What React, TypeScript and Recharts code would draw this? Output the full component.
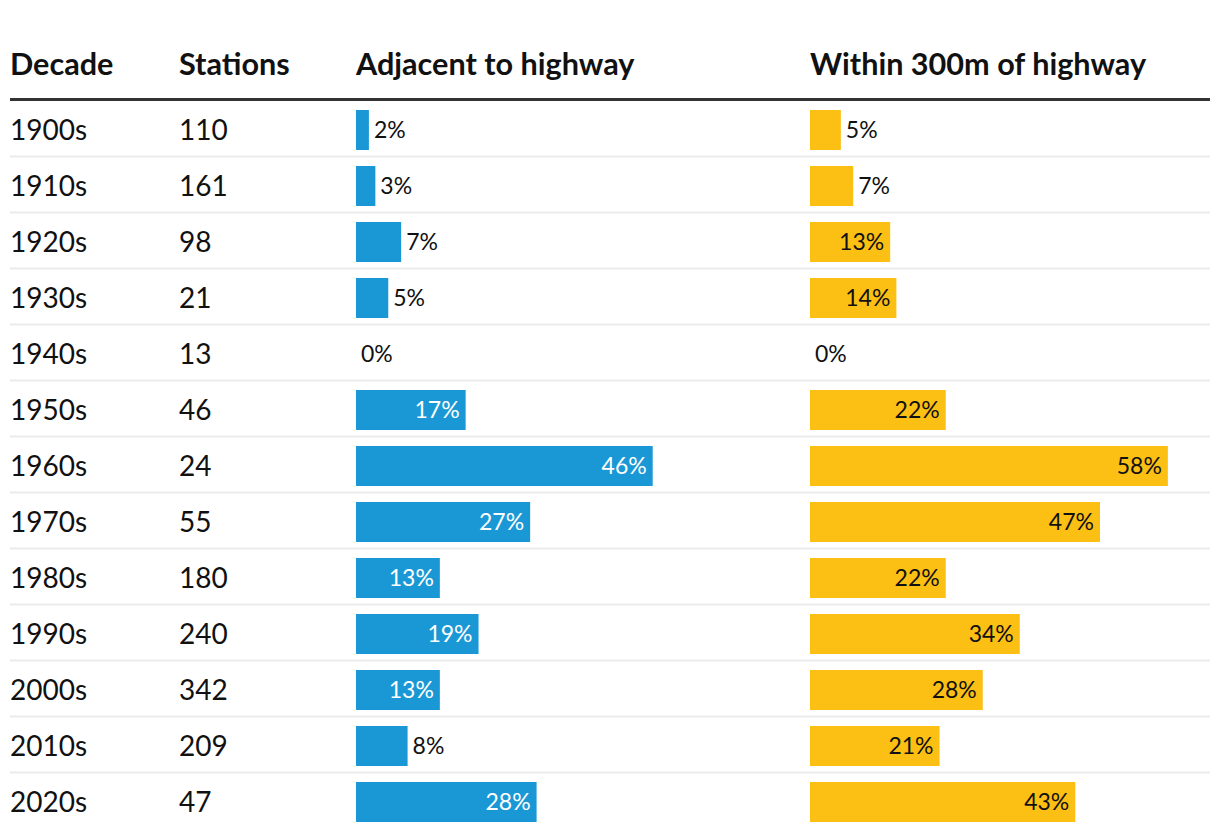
import React from 'react';
import { BarChart, Bar, XAxis, YAxis, LabelList } from 'recharts';

const decades = ['1900s', '1910s', '1920s', '1930s', '1940s', '1950s', '1960s', '1970s', '1980s', '1990s', '2000s', '2010s', '2020s'];
const stations = [110, 161, 98, 21, 13, 46, 24, 55, 180, 240, 342, 209, 47];
const adjacent = [2, 3, 7, 5, 0, 17, 46, 27, 13, 19, 13, 8, 28];
const within = [5, 7, 13, 14, 0, 22, 58, 47, 22, 34, 28, 21, 43];
const headers = ['Decade', 'Stations', 'Adjacent to highway', 'Within 300m of highway'];

const data = decades.map((d, i) => ({
    decade: d,
    stations: stations[i],
    adjacent: adjacent[i],
    within: within[i]
}));

const COLORS = {
    blue: '#1a98d5',
    yellow: '#fcbf14',
    text: '#111111',
    rule: '#333333',
    sep: '#ebebeb'
};

const FONT = 'Lato, "Noto Sans", sans-serif';
const W = 1220;
const H = 838;

// column x positions
const COL_X = [10, 179, 356, 810];

const RowTick = (props: any) => {
    const { y, payload, index } = props;
    const row = data.find((r) => r.decade === payload.value);
    const last = row ? row.decade === decades[decades.length - 1] : index === data.length - 1;
    return (
        <g>
            <text x={COL_X[0]} y={y} dy="0.36em" fontSize={28} fill={COLORS.text} fontFamily={FONT}>{payload.value}</text>
            <text x={COL_X[1]} y={y} dy="0.36em" fontSize={28} fill={COLORS.text} fontFamily={FONT}>{row ? row.stations : ''}</text>
            {!last && <line x1={10} x2={1210} y1={y + 26.5} y2={y + 26.5} stroke={COLORS.sep} strokeWidth={2} />}
        </g>
    );
};

const makeLabel = (insideFill: string) => (props: any) => {
    const x = Number(props.x);
    const y = Number(props.y);
    const width = Number(props.width) || 0;
    const height = Number(props.height) || 0;
    const value = Number(props.value);
    const inside = value >= 10;
    // zero-value bars get a hairline min size so the label still renders
    const w = value === 0 ? 0 : width;
    return (
        <text
            x={inside ? x + w - 6 : x + w + 5}
            y={y + height / 2}
            dy="0.36em"
            textAnchor={inside ? 'end' : 'start'}
            fill={inside ? insideFill : COLORS.text}
            fontSize={23}
            fontFamily={FONT}
        >
            {`${value}%`}
        </text>
    );
};

export default function App() {
    return (
        <div style={{ position: 'absolute', left: 0, top: 0, width: W, height: H, background: '#fff', fontFamily: FONT }}>
            <svg width={W} height={110} style={{ position: 'absolute', left: 0, top: 0 }}>
                {headers.map((h, i) => (
                    <text key={h} x={COL_X[i]} y={75} fontSize={30.6} fontWeight="bold" fill={COLORS.text} fontFamily={FONT}>{h}</text>
                ))}
                <line x1={10} x2={1210} y1={99.5} y2={99.5} stroke={COLORS.rule} strokeWidth={3} />
            </svg>
            <div style={{ position: 'absolute', left: 0, top: 0 }}>
                <BarChart width={W} height={H} data={data} layout="vertical" barGap={-40} margin={{ top: 102, right: 0, bottom: 8, left: 0 }}>
                    <YAxis type="category" dataKey="decade" width={356} axisLine={false} tickLine={false} interval={0} tick={(p: any) => <RowTick {...p} />} />
                    <XAxis xAxisId="adj" type="number" domain={[0, 50]} padding={{ left: 0, right: 541.5 }} hide />
                    <XAxis xAxisId="near" type="number" domain={[0, 60]} padding={{ left: 454, right: 39.8 }} hide />
                    <Bar xAxisId="adj" dataKey="adjacent" barSize={40} minPointSize={0.01} fill={COLORS.blue} isAnimationActive={false}>
                        <LabelList dataKey="adjacent" content={makeLabel('#ffffff')} />
                    </Bar>
                    <Bar xAxisId="near" dataKey="within" barSize={40} minPointSize={0.01} fill={COLORS.yellow} isAnimationActive={false}>
                        <LabelList dataKey="within" content={makeLabel(COLORS.text)} />
                    </Bar>
                </BarChart>
            </div>
        </div>
    );
}
